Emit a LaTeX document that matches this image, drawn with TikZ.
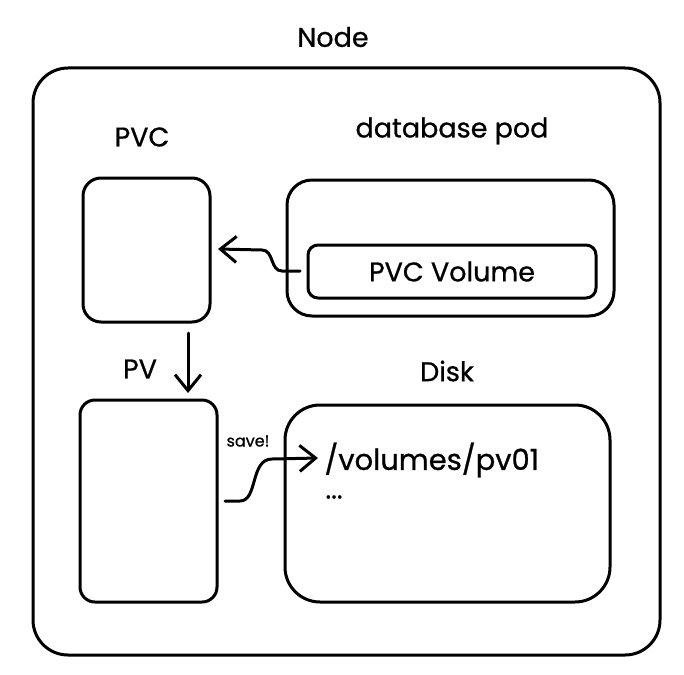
\documentclass[tikz,border=0pt]{standalone}
\usepackage{fontspec}
\setmainfont{Poppins}[UprightFeatures={FakeBold=0.8}]
\usetikzlibrary{arrows.meta}
\begin{document}
\begin{tikzpicture}[x=1pt,y=-1pt,
  box/.style={draw=black,line width=3pt,rounded corners=#1},
  lbl/.style={font=\fontsize{27}{30}\selectfont,text=black},
  conn/.style={draw=black,line width=3pt,line cap=round,line join=round,
    -{Straight Barb[length=16pt,width=26pt,line width=3pt]}}]
\useasboundingbox (0,0) rectangle (684,674);
% outer
\node[lbl] (nodelbl) at (333,37) {Node};
\draw[box=35pt] (33,68) rectangle (660,655);
% PVC
\node[lbl] (pvclbl) at (142,137) {PVC};
\node[box=18pt,minimum width=127pt,minimum height=144pt] (pvc) at (146.5,250) {};
% database pod
\node[lbl] (dblbl) at (452,131) {database pod};
\node[box=25pt,minimum width=327pt,minimum height=136pt] (db) at (450.5,248) {};
\node[box=10pt,minimum width=288pt,minimum height=53pt,lbl,inner sep=0pt] (vol) at (452,271.5) {PVC Volume};
% arrow vol -> pvc
\coordinate (a1) at (300,271);
\coordinate (a2) at (218,249);
\draw[conn] (a1) -- (282,271) .. controls (270,271) and (274,250) .. (262,250) -- (a2);
% PV
\node[lbl] (pvlbl) at (140,369) {PV};
\node[box=15pt,minimum width=137pt,minimum height=202pt] (pv) at (148.5,501) {};
\coordinate (d1) at (188,333);
\coordinate (d2) at (188,393);
\draw[conn] (d1) -- (d2);
% Disk
\node[lbl] (disklbl) at (447,371) {Disk};
\node[box=35pt,minimum width=325pt,minimum height=197pt] (disk) at (447.5,503.5) {};
\node[lbl,anchor=west,font=\fontsize{29}{32}\selectfont] (path) at (321,460) {/volumes/pv01};
\node[lbl,anchor=west] (dots) at (322,497) {...};
% save arrow
\coordinate (s1) at (225,501);
\coordinate (s2) at (318,458);
\draw[conn] (s1) -- (240,501) .. controls (258,501) and (250,459) .. (272,459) -- (s2);
\node[font=\fontsize{16}{18}\selectfont] (savelbl) at (248,441) {save!};
\end{tikzpicture}
\end{document}
